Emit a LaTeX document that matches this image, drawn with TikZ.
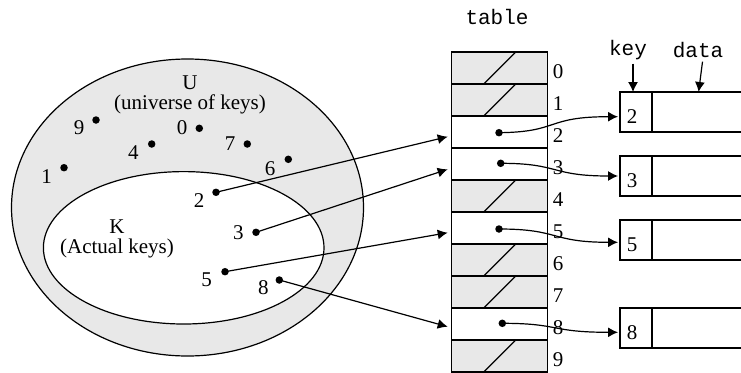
\documentclass[tikz,border=0pt]{standalone}
\usepackage{fontspec}
\setmainfont{Liberation Serif}
\setmonofont{Liberation Mono}
\usetikzlibrary{arrows.meta,positioning}
\definecolor{shade}{gray}{0.91}

\begin{document}
\begin{tikzpicture}[x=1pt,y=-1pt,line width=1.2pt,
    font=\fontsize{21}{20}\selectfont,
    dot/.style={circle,fill=black,inner sep=0pt,minimum size=7.5pt},
    arr/.style={-{Latex[length=10pt,width=10pt]}},
    setname/.style={align=center,inner sep=0pt},
    slot/.style={draw,minimum width=96pt,minimum height=32pt,inner sep=0pt,outer sep=0pt},
    keybox/.style={draw,minimum width=32pt,minimum height=40pt,inner sep=0pt,outer sep=0pt},
    databox/.style={draw,minimum width=100pt,minimum height=40pt,inner sep=0pt,outer sep=0pt}]
    \useasboundingbox (0,0) rectangle (741,372);
    \clip (0,0) rectangle (741,372);
    % the two sets
    \draw[fill=shade] (187.5,207.5) ellipse [x radius=176, y radius=148.5];
    \draw[fill=white] (183.7,247.8) ellipse [x radius=140.3, y radius=76.2];
    \node[setname] (Uset) at (190,95) {U\\(universe of keys)};
    \node[setname] (Kset) at (117,239) {K\\(Actual keys)};
    % keys
    \foreach \k/\x/\y/\lx/\ly in {9/96/120/79/128, 0/199.3/128.3/182/128,
        4/151.7/144/133.3/152.7, 7/247.3/144/230/144, 1/64/167.7/46.7/176.7,
        6/288.3/159.3/270/168.3, 2/216/192.3/199/200.7, 3/256/232.3/238.3/232.3,
        5/225/271.7/206.7/279.3, 8/279.3/280/263.3/287.7} {
      \node[dot] (k\k) at (\x,\y) {};
      \node (l\k) at (\lx,\ly) {\k};
    }
    % the table
    \node (tablab) at (497,17) {\ttfamily table};
    \foreach \i/\f in {0/shade,1/shade,2/white,3/white,4/shade,5/white,6/shade,7/shade,8/white,9/shade} {
      \node[slot,fill=\f] (c\i) at (499.7,{68+32*\i}) {};
      \node (n\i) at (558,{72+32*\i}) {\i};
    }
    \foreach \i in {0,1,4,6,7,9}
      \draw (c\i.south) ++(-16,0) -- ++(32,-32);
    % pointers from the keys
    \foreach \k/\y in {2/136.7,3/169.3,5/232.7,8/326.7} {
      \coordinate (t\k) at (447.7,\y);
      \draw[arr] (k\k.center) -- (t\k);
    }
    % the records
    \foreach \k/\y in {2/112,3/176,5/240,8/328} {
      \node[keybox] (r\k) at (636,\y) {};
      \node[databox,right=0pt of r\k] (d\k) {};
      \node (v\k) at (632,\y+5) {\k};
    }
    \node (keylab) at (628,50) {\ttfamily key};
    \node (datalab) at (698,50) {\ttfamily data};
    \draw[arr] ([xshift=5]keylab.south) -- ([xshift=-3]r2.north);
    \draw[arr] ([xshift=4.5]datalab.south) -- ([xshift=46.6]d2.north west);
    % from the table to the records
    \node[dot] (p2) at (499,132.7) {};
    \node[dot] (p3) at (500.7,163.3) {};
    \node[dot] (p5) at (499,229) {};
    \node[dot] (p8) at (502.3,323.3) {};
    \coordinate (e2) at (618,116.7);
    \coordinate (e3) at (618,176);
    \coordinate (e5) at (618,242.3);
    \coordinate (e8) at (618,332.3);
    \draw[arr] (p2.center) .. controls (560,132) and (545,116.7) .. (e2);
    \draw[arr] (p3.center) .. controls (560,163.3) and (550,176) .. (e3);
    \draw[arr] (p5.center) .. controls (560,229) and (550,242.3) .. (e5);
    \draw[arr] (p8.center) .. controls (560,323.3) and (550,332.3) .. (e8);
\end{tikzpicture}
\end{document}
